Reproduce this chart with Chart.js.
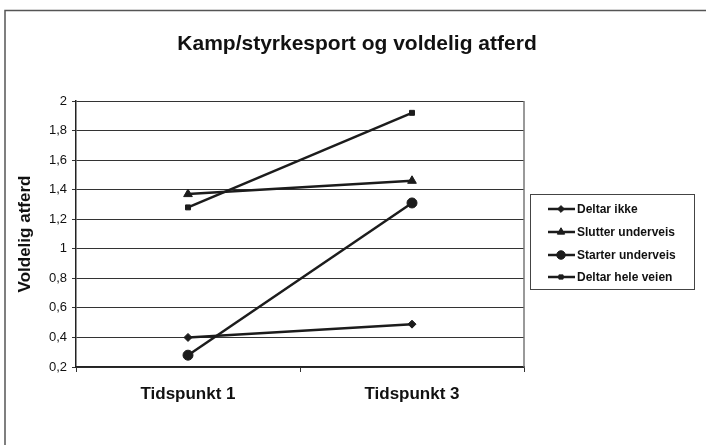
<!DOCTYPE html>
<html>
<head>
<meta charset="utf-8">
<script src="https://cdn.jsdelivr.net/npm/chart.js@4"></script>
<style>
  html, body { margin: 0; padding: 0; background: #fff; }
</style>
</head>
<body>
<canvas id="chart" width="706" height="445"></canvas>
<script>
const d = document;

// data
const labels = ['Tidspunkt 1', 'Tidspunkt 3'];
const seriesNames = ['Deltar ikke', 'Slutter underveis', 'Starter underveis', 'Deltar hele veien'];
const deltarIkke = [0.40, 0.49];
const slutterUnderveis = [1.37, 1.46];
const starterUnderveis = [0.28, 1.31];
const deltarHeleVeien = [1.28, 1.92];
const yMin = 0.2, yMax = 2, yStep = 0.2;
const chartTitle = 'Kamp/styrkesport og voldelig atferd';
const yTitle = 'Voldelig atferd';

const ink = '#1c1c1c';
const font = '"Liberation Sans", Arial, sans-serif';

const mkSet = (name, values, style, r) => ({
    label: name,
    data: values,
    borderColor: ink,
    borderWidth: 2.5,
    pointStyle: style,
    pointRadius: r,
    pointBackgroundColor: ink,
    pointBorderColor: ink,
    pointBorderWidth: 1,
    tension: 0
});

// frame, title and legend box
const extras = {
    id: 'extras',
    beforeDraw(chart) {
        const ctx = chart.ctx;
        ctx.save();
        ctx.strokeStyle = '#555';
        ctx.lineWidth = 1.5;
        ctx.beginPath();
        ctx.moveTo(5, 445);
        ctx.lineTo(5, 10.5);
        ctx.lineTo(706, 10.5);
        ctx.stroke();
        ctx.restore();
    },
    beforeDatasetsDraw(chart) {
        const {ctx, chartArea: a} = chart;
        ctx.save();
        ctx.strokeStyle = '#777';
        ctx.lineWidth = 1.5;
        ctx.beginPath();
        ctx.moveTo(a.right, a.top);
        ctx.lineTo(a.right, a.bottom);
        ctx.stroke();
        ctx.restore();
    },
    afterDraw(chart) {
        const ctx = chart.ctx;
        ctx.save();
        ctx.fillStyle = '#111';
        ctx.font = 'bold 21px ' + font;
        ctx.textAlign = 'center';
        ctx.textBaseline = 'alphabetic';
        ctx.fillText(chartTitle, 357, 50);

        // legend
        ctx.strokeStyle = '#444';
        ctx.lineWidth = 1;
        ctx.strokeRect(530.5, 194.5, 164, 95);
        const rows = [209, 232, 255, 277];
        ctx.font = 'bold 12px ' + font;
        ctx.textAlign = 'left';
        ctx.textBaseline = 'middle';
        chart.data.datasets.forEach((ds, i) => {
            const y = rows[i];
            ctx.strokeStyle = ds.borderColor;
            ctx.fillStyle = ds.pointBackgroundColor;
            ctx.lineWidth = 2.5;
            ctx.beginPath();
            ctx.moveTo(548, y);
            ctx.lineTo(575, y);
            ctx.stroke();
            ctx.lineWidth = 1;
            Chart.helpers.drawPoint(ctx, {
                pointStyle: ds.pointStyle,
                radius: ds.pointRadius * 0.85,
                rotation: 0,
                borderWidth: 1
            }, 561, y);
            ctx.fillStyle = '#111';
            ctx.fillText(ds.label, 577, y + 1);
        });
        ctx.restore();
    }
};

const $chart = d.getElementById('chart').getContext('2d');

new Chart($chart, {
    type: 'line',
    data: {
        labels: labels,
        datasets: [
            mkSet(seriesNames[0], deltarIkke, 'rectRot', 4),
            mkSet(seriesNames[1], slutterUnderveis, 'triangle', 5),
            mkSet(seriesNames[2], starterUnderveis, 'circle', 5),
            mkSet(seriesNames[3], deltarHeleVeien, 'rect', 3.5)
        ]
    },
    options: {
        responsive: false,
        animation: false,
        devicePixelRatio: 1,
        layout: { padding: { top: 101, right: 182, bottom: 0, left: 0 } },
        plugins: {
            legend: { display: false },
            title: { display: false },
            tooltip: { enabled: false }
        },
        scales: {
            x: {
                type: 'category',
                offset: true,
                afterFit: s => { s.height = 78; },
                grid: {
                    offset: true,
                    drawOnChartArea: false,
                    drawTicks: true,
                    tickLength: 5,
                    color: '#333',
                    lineWidth: 1
                },
                border: { color: '#222', width: 1.5 },
                ticks: {
                    color: '#111',
                    font: { family: font, size: 17, weight: 'bold' },
                    padding: 12,
                    maxRotation: 0
                }
            },
            y: {
                min: yMin,
                max: yMax,
                afterFit: s => { s.width = 76; },
                grid: {
                    color: '#333',
                    lineWidth: 1,
                    drawTicks: true,
                    tickLength: 4
                },
                border: { color: '#222', width: 1.5 },
                ticks: {
                    stepSize: yStep,
                    color: '#111',
                    padding: 5,
                    font: { family: font, size: 13 },
                    callback: v => String(Math.round(v * 10) / 10).replace('.', ',')
                },
                title: {
                    display: true,
                    text: yTitle,
                    color: '#111',
                    font: { family: font, size: 17, weight: 'bold' },
                    padding: { top: 15, bottom: 0 }
                }
            }
        }
    },
    plugins: [extras]
});
</script>
</body>
</html>
